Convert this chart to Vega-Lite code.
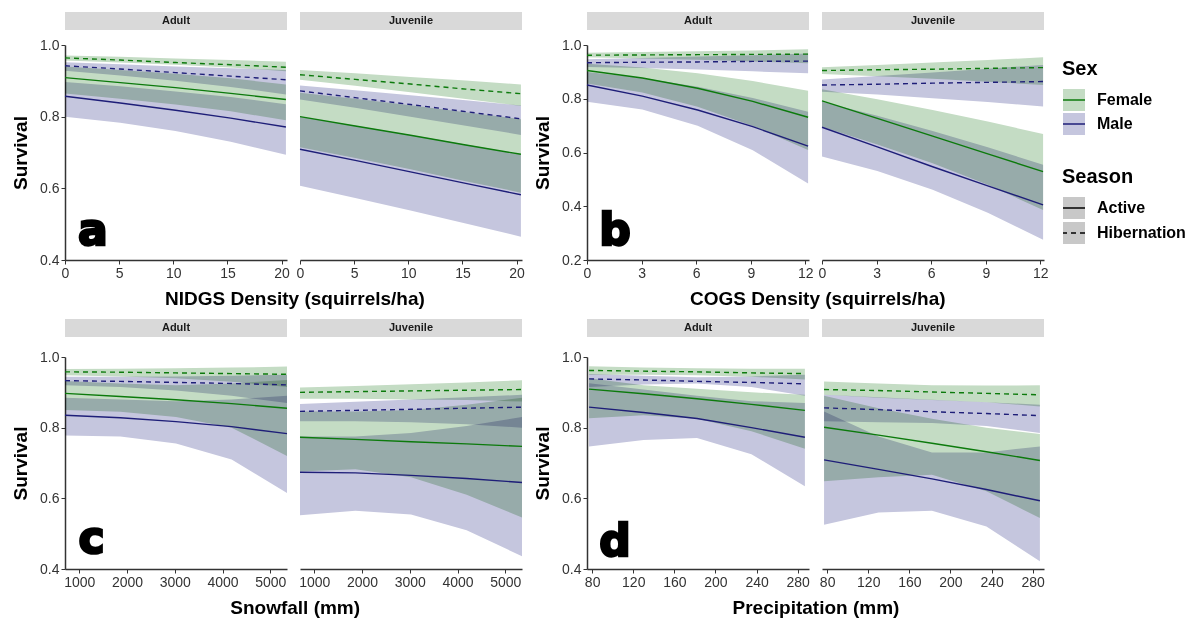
{
"$schema":"https://vega.github.io/schema/vega-lite/v6.json",
"padding":{"left":11,"top":12,"right":4,"bottom":2},
"datasets":{"d":[
{"p":"a","age":"Adult","sex":"Female","season":"Active","x":0,"y":0.909,"lo":0.865,"hi":0.94},
{"p":"a","age":"Adult","sex":"Female","season":"Active","x":5.1,"y":0.895,"lo":0.85,"hi":0.93},
{"p":"a","age":"Adult","sex":"Female","season":"Active","x":10.2,"y":0.881,"lo":0.834,"hi":0.92},
{"p":"a","age":"Adult","sex":"Female","season":"Active","x":15.3,"y":0.865,"lo":0.815,"hi":0.907},
{"p":"a","age":"Adult","sex":"Female","season":"Active","x":20.4,"y":0.848,"lo":0.79,"hi":0.89},
{"p":"a","age":"Adult","sex":"Male","season":"Active","x":0,"y":0.857,"lo":0.8,"hi":0.897},
{"p":"a","age":"Adult","sex":"Male","season":"Active","x":5.1,"y":0.838,"lo":0.783,"hi":0.885},
{"p":"a","age":"Adult","sex":"Male","season":"Active","x":10.2,"y":0.818,"lo":0.76,"hi":0.87},
{"p":"a","age":"Adult","sex":"Male","season":"Active","x":15.3,"y":0.796,"lo":0.73,"hi":0.855},
{"p":"a","age":"Adult","sex":"Male","season":"Active","x":20.4,"y":0.771,"lo":0.694,"hi":0.835},
{"p":"a","age":"Adult","sex":"Female","season":"Hibernation","x":0,"y":0.964,"lo":0.957,"hi":0.971},
{"p":"a","age":"Adult","sex":"Female","season":"Hibernation","x":5.1,"y":0.958,"lo":0.951,"hi":0.967},
{"p":"a","age":"Adult","sex":"Female","season":"Hibernation","x":10.2,"y":0.951,"lo":0.945,"hi":0.962},
{"p":"a","age":"Adult","sex":"Female","season":"Hibernation","x":15.3,"y":0.945,"lo":0.937,"hi":0.958},
{"p":"a","age":"Adult","sex":"Female","season":"Hibernation","x":20.4,"y":0.938,"lo":0.927,"hi":0.953},
{"p":"a","age":"Adult","sex":"Male","season":"Hibernation","x":0,"y":0.942,"lo":0.928,"hi":0.952},
{"p":"a","age":"Adult","sex":"Male","season":"Hibernation","x":5.1,"y":0.933,"lo":0.915,"hi":0.946},
{"p":"a","age":"Adult","sex":"Male","season":"Hibernation","x":10.2,"y":0.923,"lo":0.9,"hi":0.94},
{"p":"a","age":"Adult","sex":"Male","season":"Hibernation","x":15.3,"y":0.913,"lo":0.883,"hi":0.935},
{"p":"a","age":"Adult","sex":"Male","season":"Hibernation","x":20.4,"y":0.903,"lo":0.862,"hi":0.93},
{"p":"a","age":"Juvenile","sex":"Female","season":"Active","x":0,"y":0.8,"lo":0.715,"hi":0.867},
{"p":"a","age":"Juvenile","sex":"Female","season":"Active","x":5.1,"y":0.774,"lo":0.685,"hi":0.85},
{"p":"a","age":"Juvenile","sex":"Female","season":"Active","x":10.2,"y":0.748,"lo":0.653,"hi":0.832},
{"p":"a","age":"Juvenile","sex":"Female","season":"Active","x":15.3,"y":0.721,"lo":0.62,"hi":0.812},
{"p":"a","age":"Juvenile","sex":"Female","season":"Active","x":20.4,"y":0.695,"lo":0.588,"hi":0.793},
{"p":"a","age":"Juvenile","sex":"Male","season":"Active","x":0,"y":0.709,"lo":0.607,"hi":0.8},
{"p":"a","age":"Juvenile","sex":"Male","season":"Active","x":5.1,"y":0.678,"lo":0.573,"hi":0.775},
{"p":"a","age":"Juvenile","sex":"Male","season":"Active","x":10.2,"y":0.646,"lo":0.538,"hi":0.749},
{"p":"a","age":"Juvenile","sex":"Male","season":"Active","x":15.3,"y":0.614,"lo":0.502,"hi":0.722},
{"p":"a","age":"Juvenile","sex":"Male","season":"Active","x":20.4,"y":0.582,"lo":0.465,"hi":0.695},
{"p":"a","age":"Juvenile","sex":"Female","season":"Hibernation","x":0,"y":0.917,"lo":0.903,"hi":0.93},
{"p":"a","age":"Juvenile","sex":"Female","season":"Hibernation","x":5.1,"y":0.904,"lo":0.886,"hi":0.921},
{"p":"a","age":"Juvenile","sex":"Female","season":"Hibernation","x":10.2,"y":0.891,"lo":0.868,"hi":0.911},
{"p":"a","age":"Juvenile","sex":"Female","season":"Hibernation","x":15.3,"y":0.877,"lo":0.849,"hi":0.901},
{"p":"a","age":"Juvenile","sex":"Female","season":"Hibernation","x":20.4,"y":0.864,"lo":0.83,"hi":0.89},
{"p":"a","age":"Juvenile","sex":"Male","season":"Hibernation","x":0,"y":0.872,"lo":0.848,"hi":0.887},
{"p":"a","age":"Juvenile","sex":"Male","season":"Hibernation","x":5.1,"y":0.853,"lo":0.825,"hi":0.874},
{"p":"a","age":"Juvenile","sex":"Male","season":"Hibernation","x":10.2,"y":0.834,"lo":0.8,"hi":0.86},
{"p":"a","age":"Juvenile","sex":"Male","season":"Hibernation","x":15.3,"y":0.814,"lo":0.775,"hi":0.846},
{"p":"a","age":"Juvenile","sex":"Male","season":"Hibernation","x":20.4,"y":0.794,"lo":0.749,"hi":0.831},
{"p":"b","age":"Adult","sex":"Female","season":"Active","x":0,"y":0.905,"lo":0.857,"hi":0.93},
{"p":"b","age":"Adult","sex":"Female","season":"Active","x":3.04,"y":0.877,"lo":0.823,"hi":0.916},
{"p":"b","age":"Adult","sex":"Female","season":"Active","x":6.08,"y":0.839,"lo":0.77,"hi":0.895},
{"p":"b","age":"Adult","sex":"Female","season":"Active","x":9.11,"y":0.79,"lo":0.699,"hi":0.866},
{"p":"b","age":"Adult","sex":"Female","season":"Active","x":12.15,"y":0.731,"lo":0.609,"hi":0.83},
{"p":"b","age":"Adult","sex":"Male","season":"Active","x":0,"y":0.851,"lo":0.789,"hi":0.9},
{"p":"b","age":"Adult","sex":"Male","season":"Active","x":3.04,"y":0.81,"lo":0.76,"hi":0.877},
{"p":"b","age":"Adult","sex":"Male","season":"Active","x":6.08,"y":0.758,"lo":0.7,"hi":0.845},
{"p":"b","age":"Adult","sex":"Male","season":"Active","x":9.11,"y":0.696,"lo":0.608,"hi":0.803},
{"p":"b","age":"Adult","sex":"Male","season":"Active","x":12.15,"y":0.624,"lo":0.485,"hi":0.752},
{"p":"b","age":"Adult","sex":"Female","season":"Hibernation","x":0,"y":0.962,"lo":0.954,"hi":0.971},
{"p":"b","age":"Adult","sex":"Female","season":"Hibernation","x":3.04,"y":0.963,"lo":0.95,"hi":0.974},
{"p":"b","age":"Adult","sex":"Female","season":"Hibernation","x":6.08,"y":0.964,"lo":0.945,"hi":0.977},
{"p":"b","age":"Adult","sex":"Female","season":"Hibernation","x":9.11,"y":0.965,"lo":0.939,"hi":0.98},
{"p":"b","age":"Adult","sex":"Female","season":"Hibernation","x":12.15,"y":0.966,"lo":0.932,"hi":0.984},
{"p":"b","age":"Adult","sex":"Male","season":"Hibernation","x":0,"y":0.934,"lo":0.918,"hi":0.947},
{"p":"b","age":"Adult","sex":"Male","season":"Hibernation","x":3.04,"y":0.936,"lo":0.914,"hi":0.952},
{"p":"b","age":"Adult","sex":"Male","season":"Hibernation","x":6.08,"y":0.937,"lo":0.909,"hi":0.957},
{"p":"b","age":"Adult","sex":"Male","season":"Hibernation","x":9.11,"y":0.939,"lo":0.902,"hi":0.962},
{"p":"b","age":"Adult","sex":"Male","season":"Hibernation","x":12.15,"y":0.94,"lo":0.895,"hi":0.968},
{"p":"b","age":"Juvenile","sex":"Female","season":"Active","x":0,"y":0.792,"lo":0.696,"hi":0.835},
{"p":"b","age":"Juvenile","sex":"Female","season":"Active","x":3.04,"y":0.727,"lo":0.63,"hi":0.798},
{"p":"b","age":"Juvenile","sex":"Female","season":"Active","x":6.08,"y":0.661,"lo":0.56,"hi":0.758},
{"p":"b","age":"Juvenile","sex":"Female","season":"Active","x":9.11,"y":0.595,"lo":0.48,"hi":0.715},
{"p":"b","age":"Juvenile","sex":"Female","season":"Active","x":12.15,"y":0.529,"lo":0.386,"hi":0.669},
{"p":"b","age":"Juvenile","sex":"Male","season":"Active","x":0,"y":0.694,"lo":0.585,"hi":0.789},
{"p":"b","age":"Juvenile","sex":"Male","season":"Active","x":3.04,"y":0.621,"lo":0.531,"hi":0.737},
{"p":"b","age":"Juvenile","sex":"Male","season":"Active","x":6.08,"y":0.547,"lo":0.461,"hi":0.68},
{"p":"b","age":"Juvenile","sex":"Male","season":"Active","x":9.11,"y":0.476,"lo":0.376,"hi":0.62},
{"p":"b","age":"Juvenile","sex":"Male","season":"Active","x":12.15,"y":0.405,"lo":0.275,"hi":0.554},
{"p":"b","age":"Juvenile","sex":"Female","season":"Hibernation","x":0,"y":0.905,"lo":0.892,"hi":0.917},
{"p":"b","age":"Juvenile","sex":"Female","season":"Hibernation","x":3.04,"y":0.908,"lo":0.884,"hi":0.926},
{"p":"b","age":"Juvenile","sex":"Female","season":"Hibernation","x":6.08,"y":0.91,"lo":0.874,"hi":0.935},
{"p":"b","age":"Juvenile","sex":"Female","season":"Hibernation","x":9.11,"y":0.913,"lo":0.863,"hi":0.944},
{"p":"b","age":"Juvenile","sex":"Female","season":"Hibernation","x":12.15,"y":0.916,"lo":0.851,"hi":0.954},
{"p":"b","age":"Juvenile","sex":"Male","season":"Hibernation","x":0,"y":0.851,"lo":0.826,"hi":0.872},
{"p":"b","age":"Juvenile","sex":"Male","season":"Hibernation","x":3.04,"y":0.854,"lo":0.816,"hi":0.885},
{"p":"b","age":"Juvenile","sex":"Male","season":"Hibernation","x":6.08,"y":0.858,"lo":0.802,"hi":0.898},
{"p":"b","age":"Juvenile","sex":"Male","season":"Hibernation","x":9.11,"y":0.861,"lo":0.788,"hi":0.912},
{"p":"b","age":"Juvenile","sex":"Male","season":"Hibernation","x":12.15,"y":0.864,"lo":0.771,"hi":0.926},
{"p":"c","age":"Adult","sex":"Female","season":"Active","x":700,"y":0.897,"lo":0.85,"hi":0.932},
{"p":"c","age":"Adult","sex":"Female","season":"Active","x":1860,"y":0.888,"lo":0.845,"hi":0.925},
{"p":"c","age":"Adult","sex":"Female","season":"Active","x":3025,"y":0.879,"lo":0.83,"hi":0.92},
{"p":"c","age":"Adult","sex":"Female","season":"Active","x":4190,"y":0.868,"lo":0.8,"hi":0.925},
{"p":"c","age":"Adult","sex":"Female","season":"Active","x":5350,"y":0.855,"lo":0.72,"hi":0.935},
{"p":"c","age":"Adult","sex":"Male","season":"Active","x":700,"y":0.835,"lo":0.778,"hi":0.885},
{"p":"c","age":"Adult","sex":"Male","season":"Active","x":1860,"y":0.828,"lo":0.775,"hi":0.88},
{"p":"c","age":"Adult","sex":"Male","season":"Active","x":3025,"y":0.817,"lo":0.755,"hi":0.875},
{"p":"c","age":"Adult","sex":"Male","season":"Active","x":4190,"y":0.803,"lo":0.71,"hi":0.88},
{"p":"c","age":"Adult","sex":"Male","season":"Active","x":5350,"y":0.783,"lo":0.615,"hi":0.89},
{"p":"c","age":"Adult","sex":"Female","season":"Hibernation","x":700,"y":0.958,"lo":0.948,"hi":0.966},
{"p":"c","age":"Adult","sex":"Female","season":"Hibernation","x":1860,"y":0.957,"lo":0.945,"hi":0.967},
{"p":"c","age":"Adult","sex":"Female","season":"Hibernation","x":3025,"y":0.955,"lo":0.94,"hi":0.968},
{"p":"c","age":"Adult","sex":"Female","season":"Hibernation","x":4190,"y":0.953,"lo":0.93,"hi":0.97},
{"p":"c","age":"Adult","sex":"Female","season":"Hibernation","x":5350,"y":0.951,"lo":0.915,"hi":0.973},
{"p":"c","age":"Adult","sex":"Male","season":"Hibernation","x":700,"y":0.933,"lo":0.92,"hi":0.944},
{"p":"c","age":"Adult","sex":"Male","season":"Hibernation","x":1860,"y":0.931,"lo":0.915,"hi":0.944},
{"p":"c","age":"Adult","sex":"Male","season":"Hibernation","x":3025,"y":0.928,"lo":0.905,"hi":0.945},
{"p":"c","age":"Adult","sex":"Male","season":"Hibernation","x":4190,"y":0.925,"lo":0.89,"hi":0.947},
{"p":"c","age":"Adult","sex":"Male","season":"Hibernation","x":5350,"y":0.921,"lo":0.87,"hi":0.95},
{"p":"c","age":"Juvenile","sex":"Female","season":"Active","x":700,"y":0.773,"lo":0.676,"hi":0.846},
{"p":"c","age":"Juvenile","sex":"Female","season":"Active","x":1860,"y":0.767,"lo":0.682,"hi":0.846},
{"p":"c","age":"Juvenile","sex":"Female","season":"Active","x":3025,"y":0.76,"lo":0.66,"hi":0.85},
{"p":"c","age":"Juvenile","sex":"Female","season":"Active","x":4190,"y":0.754,"lo":0.61,"hi":0.865},
{"p":"c","age":"Juvenile","sex":"Female","season":"Active","x":5350,"y":0.747,"lo":0.546,"hi":0.885},
{"p":"c","age":"Juvenile","sex":"Male","season":"Active","x":700,"y":0.674,"lo":0.552,"hi":0.775},
{"p":"c","age":"Juvenile","sex":"Male","season":"Active","x":1860,"y":0.672,"lo":0.565,"hi":0.775},
{"p":"c","age":"Juvenile","sex":"Male","season":"Active","x":3025,"y":0.665,"lo":0.554,"hi":0.785},
{"p":"c","age":"Juvenile","sex":"Male","season":"Active","x":4190,"y":0.656,"lo":0.51,"hi":0.805},
{"p":"c","age":"Juvenile","sex":"Male","season":"Active","x":5350,"y":0.645,"lo":0.436,"hi":0.83},
{"p":"c","age":"Juvenile","sex":"Female","season":"Hibernation","x":700,"y":0.9,"lo":0.882,"hi":0.914},
{"p":"c","age":"Juvenile","sex":"Female","season":"Hibernation","x":1860,"y":0.902,"lo":0.882,"hi":0.918},
{"p":"c","age":"Juvenile","sex":"Female","season":"Hibernation","x":3025,"y":0.904,"lo":0.88,"hi":0.923},
{"p":"c","age":"Juvenile","sex":"Female","season":"Hibernation","x":4190,"y":0.906,"lo":0.878,"hi":0.928},
{"p":"c","age":"Juvenile","sex":"Female","season":"Hibernation","x":5350,"y":0.908,"lo":0.874,"hi":0.934},
{"p":"c","age":"Juvenile","sex":"Male","season":"Hibernation","x":700,"y":0.846,"lo":0.818,"hi":0.867},
{"p":"c","age":"Juvenile","sex":"Male","season":"Hibernation","x":1860,"y":0.849,"lo":0.818,"hi":0.873},
{"p":"c","age":"Juvenile","sex":"Male","season":"Hibernation","x":3025,"y":0.852,"lo":0.815,"hi":0.88},
{"p":"c","age":"Juvenile","sex":"Male","season":"Hibernation","x":4190,"y":0.855,"lo":0.81,"hi":0.886},
{"p":"c","age":"Juvenile","sex":"Male","season":"Hibernation","x":5350,"y":0.858,"lo":0.8,"hi":0.893},
{"p":"d","age":"Adult","sex":"Female","season":"Active","x":77,"y":0.909,"lo":0.827,"hi":0.94},
{"p":"d","age":"Adult","sex":"Female","season":"Active","x":130,"y":0.896,"lo":0.835,"hi":0.92},
{"p":"d","age":"Adult","sex":"Female","season":"Active","x":182,"y":0.882,"lo":0.825,"hi":0.91},
{"p":"d","age":"Adult","sex":"Female","season":"Active","x":235,"y":0.866,"lo":0.79,"hi":0.9},
{"p":"d","age":"Adult","sex":"Female","season":"Active","x":287,"y":0.849,"lo":0.74,"hi":0.893},
{"p":"d","age":"Adult","sex":"Male","season":"Active","x":77,"y":0.858,"lo":0.747,"hi":0.926},
{"p":"d","age":"Adult","sex":"Male","season":"Active","x":130,"y":0.843,"lo":0.765,"hi":0.908},
{"p":"d","age":"Adult","sex":"Male","season":"Active","x":182,"y":0.826,"lo":0.771,"hi":0.89},
{"p":"d","age":"Adult","sex":"Male","season":"Active","x":235,"y":0.8,"lo":0.725,"hi":0.875},
{"p":"d","age":"Adult","sex":"Male","season":"Active","x":287,"y":0.773,"lo":0.634,"hi":0.87},
{"p":"d","age":"Adult","sex":"Female","season":"Hibernation","x":77,"y":0.962,"lo":0.95,"hi":0.974},
{"p":"d","age":"Adult","sex":"Female","season":"Hibernation","x":130,"y":0.96,"lo":0.95,"hi":0.97},
{"p":"d","age":"Adult","sex":"Female","season":"Hibernation","x":182,"y":0.958,"lo":0.948,"hi":0.968},
{"p":"d","age":"Adult","sex":"Female","season":"Hibernation","x":235,"y":0.955,"lo":0.944,"hi":0.967},
{"p":"d","age":"Adult","sex":"Female","season":"Hibernation","x":287,"y":0.953,"lo":0.936,"hi":0.967},
{"p":"d","age":"Adult","sex":"Male","season":"Hibernation","x":77,"y":0.938,"lo":0.915,"hi":0.952},
{"p":"d","age":"Adult","sex":"Male","season":"Hibernation","x":130,"y":0.935,"lo":0.922,"hi":0.947},
{"p":"d","age":"Adult","sex":"Male","season":"Hibernation","x":182,"y":0.931,"lo":0.925,"hi":0.943},
{"p":"d","age":"Adult","sex":"Male","season":"Hibernation","x":235,"y":0.928,"lo":0.915,"hi":0.945},
{"p":"d","age":"Adult","sex":"Male","season":"Hibernation","x":287,"y":0.924,"lo":0.89,"hi":0.95},
{"p":"d","age":"Juvenile","sex":"Female","season":"Active","x":77,"y":0.801,"lo":0.648,"hi":0.89},
{"p":"d","age":"Juvenile","sex":"Female","season":"Active","x":130,"y":0.779,"lo":0.66,"hi":0.855},
{"p":"d","age":"Juvenile","sex":"Female","season":"Active","x":182,"y":0.756,"lo":0.667,"hi":0.825},
{"p":"d","age":"Juvenile","sex":"Female","season":"Active","x":235,"y":0.732,"lo":0.62,"hi":0.8},
{"p":"d","age":"Juvenile","sex":"Female","season":"Active","x":287,"y":0.707,"lo":0.544,"hi":0.782},
{"p":"d","age":"Juvenile","sex":"Male","season":"Active","x":77,"y":0.709,"lo":0.525,"hi":0.846},
{"p":"d","age":"Juvenile","sex":"Male","season":"Active","x":130,"y":0.682,"lo":0.56,"hi":0.775},
{"p":"d","age":"Juvenile","sex":"Male","season":"Active","x":182,"y":0.655,"lo":0.565,"hi":0.73},
{"p":"d","age":"Juvenile","sex":"Male","season":"Active","x":235,"y":0.625,"lo":0.52,"hi":0.73},
{"p":"d","age":"Juvenile","sex":"Male","season":"Active","x":287,"y":0.593,"lo":0.422,"hi":0.747},
{"p":"d","age":"Juvenile","sex":"Female","season":"Hibernation","x":77,"y":0.908,"lo":0.893,"hi":0.931},
{"p":"d","age":"Juvenile","sex":"Female","season":"Hibernation","x":130,"y":0.905,"lo":0.885,"hi":0.925},
{"p":"d","age":"Juvenile","sex":"Female","season":"Hibernation","x":182,"y":0.901,"lo":0.878,"hi":0.92},
{"p":"d","age":"Juvenile","sex":"Female","season":"Hibernation","x":235,"y":0.897,"lo":0.872,"hi":0.919},
{"p":"d","age":"Juvenile","sex":"Female","season":"Hibernation","x":287,"y":0.893,"lo":0.86,"hi":0.92},
{"p":"d","age":"Juvenile","sex":"Male","season":"Hibernation","x":77,"y":0.856,"lo":0.818,"hi":0.893},
{"p":"d","age":"Juvenile","sex":"Male","season":"Hibernation","x":130,"y":0.851,"lo":0.815,"hi":0.886},
{"p":"d","age":"Juvenile","sex":"Male","season":"Hibernation","x":182,"y":0.845,"lo":0.813,"hi":0.879},
{"p":"d","age":"Juvenile","sex":"Male","season":"Hibernation","x":235,"y":0.84,"lo":0.805,"hi":0.872},
{"p":"d","age":"Juvenile","sex":"Male","season":"Hibernation","x":287,"y":0.834,"lo":0.785,"hi":0.865}
]},
"vconcat":[
{"hconcat":[
{"concat":[
{"width":222,"height":18,"data":{"values":[{"lab":"Adult"}]},"layer":[{"mark":{"type":"rect","color":"#d9d9d9"},"encoding":{}},{"mark":{"type":"text","fontSize":11,"fontWeight":"bold","color":"#1a1a1a"},"encoding":{"text":{"field":"lab","type":"nominal"}}}]},
{"width":222,"height":18,"data":{"values":[{"lab":"Juvenile"}]},"layer":[{"mark":{"type":"rect","color":"#d9d9d9"},"encoding":{}},{"mark":{"type":"text","fontSize":11,"fontWeight":"bold","color":"#1a1a1a"},"encoding":{"text":{"field":"lab","type":"nominal"}}}]},
{"width":222,"height":215,"layer":[
{"data":{"name":"d"},"transform":[{"filter":"datum.p==='a'&&datum.age==='Adult'"}],"mark":{"type":"area","blend":"multiply"},"encoding":{"x":{"field":"x","type":"quantitative","title":null,"scale":{"domain":[0,20.5],"nice":false,"zero":false},"axis":{"values":[0,5,10,15,20]}},"y":{"field":"lo","type":"quantitative","title":"Survival","stack":null,"scale":{"domain":[0.4,1],"nice":false,"zero":false},"axis":{"values":[0.4,0.6,0.8,1],"format":".1f"}},"y2":{"field":"hi"},"fill":{"field":"sex","type":"nominal","scale":{"domain":["Female","Male"],"range":["#c4dcc4","#c5c6de"]},"legend":{"title":"Sex","orient":"none","legendX":997,"legendY":47,"symbolType":"M-1,0H1V1H-1V-1H1V0","symbolDash":[22,600],"clipHeight":22,"rowPadding":2}},"detail":{"field":"season"}}},
{"data":{"name":"d"},"transform":[{"filter":"datum.p==='a'&&datum.age==='Adult'"}],"mark":{"type":"line","strokeWidth":1.4},"encoding":{"x":{"field":"x","type":"quantitative","title":null},"y":{"field":"y","type":"quantitative","title":"Survival"},"stroke":{"field":"sex","type":"nominal","scale":{"domain":["Female","Male"],"range":["#0c7a0c","#1e1e78"]},"legend":{"title":"Sex","orient":"none","legendX":997,"legendY":47,"symbolType":"M-1,0H1V1H-1V-1H1V0","symbolDash":[22,600],"clipHeight":22,"rowPadding":2}},"strokeDash":{"field":"season","type":"nominal","scale":{"domain":["Active","Hibernation"],"range":[[300,100],[5,4,5,4,5,4,5,4,5,4,5,4,5,4,5,4,5,4,5,4,5,4,5,4,5,4,5,4,5,4,5,4,5,4,5,4,5,4,5,4,5,4,5,4,5,4,5,4,5,4,5,4,5,4,5,4,5,4,5,100]]},"legend":{"title":"Season","orient":"none","legendX":997,"legendY":155,"symbolType":"M-1,0H1V1H-1V-1H1V0","symbolStrokeColor":"#000000","clipHeight":22,"rowPadding":3,"encode":{"symbols":{"update":{"fill":{"value":"#c8c8c8"},"stroke":{"value":"#000000"},"strokeDashOffset":{"signal":"datum.value === 'Active' ? 278 : 244"}}}}}}}},
{"data":{"values":[{"tag":"a"}]},"mark":{"type":"text","font":"DejaVu Sans","fontSize":44,"fontWeight":"bold","align":"left","baseline":"alphabetic","color":"#000000","stroke":"#000000","strokeWidth":2.5},"encoding":{"x":{"datum":1.2,"type":"quantitative"},"y":{"datum":0.443,"type":"quantitative"},"text":{"field":"tag","type":"nominal"}}}
]},
{"width":222,"height":215,"layer":[
{"data":{"name":"d"},"transform":[{"filter":"datum.p==='a'&&datum.age==='Juvenile'"}],"mark":{"type":"area","blend":"multiply"},"encoding":{"x":{"field":"x","type":"quantitative","title":null,"scale":{"domain":[0,20.5],"nice":false,"zero":false},"axis":{"values":[0,5,10,15,20]}},"y":{"field":"lo","type":"quantitative","stack":null,"scale":{"domain":[0.4,1],"nice":false,"zero":false},"axis":null},"y2":{"field":"hi"},"fill":{"field":"sex","type":"nominal","scale":{"domain":["Female","Male"],"range":["#c4dcc4","#c5c6de"]},"legend":{"title":"Sex","orient":"none","legendX":997,"legendY":47,"symbolType":"M-1,0H1V1H-1V-1H1V0","symbolDash":[22,600],"clipHeight":22,"rowPadding":2}},"detail":{"field":"season"}}},
{"data":{"name":"d"},"transform":[{"filter":"datum.p==='a'&&datum.age==='Juvenile'"}],"mark":{"type":"line","strokeWidth":1.4},"encoding":{"x":{"field":"x","type":"quantitative","title":null},"y":{"field":"y","type":"quantitative","axis":null},"stroke":{"field":"sex","type":"nominal","scale":{"domain":["Female","Male"],"range":["#0c7a0c","#1e1e78"]},"legend":{"title":"Sex","orient":"none","legendX":997,"legendY":47,"symbolType":"M-1,0H1V1H-1V-1H1V0","symbolDash":[22,600],"clipHeight":22,"rowPadding":2}},"strokeDash":{"field":"season","type":"nominal","scale":{"domain":["Active","Hibernation"],"range":[[300,100],[5,4,5,4,5,4,5,4,5,4,5,4,5,4,5,4,5,4,5,4,5,4,5,4,5,4,5,4,5,4,5,4,5,4,5,4,5,4,5,4,5,4,5,4,5,4,5,4,5,4,5,4,5,4,5,4,5,4,5,100]]},"legend":{"title":"Season","orient":"none","legendX":997,"legendY":155,"symbolType":"M-1,0H1V1H-1V-1H1V0","symbolStrokeColor":"#000000","clipHeight":22,"rowPadding":3,"encode":{"symbols":{"update":{"fill":{"value":"#c8c8c8"},"stroke":{"value":"#000000"},"strokeDashOffset":{"signal":"datum.value === 'Active' ? 278 : 244"}}}}}}}}
]}
],"columns":2,"align":"each","bounds":"flush","spacing":{"row":15,"column":13},"title":{"text":"NIDGS Density (squirrels/ha)","orient":"bottom","anchor":"middle","fontSize":19,"fontWeight":"bold","dx":27,"offset":10}},
{"concat":[
{"width":222,"height":18,"data":{"values":[{"lab":"Adult"}]},"layer":[{"mark":{"type":"rect","color":"#d9d9d9"},"encoding":{}},{"mark":{"type":"text","fontSize":11,"fontWeight":"bold","color":"#1a1a1a"},"encoding":{"text":{"field":"lab","type":"nominal"}}}]},
{"width":222,"height":18,"data":{"values":[{"lab":"Juvenile"}]},"layer":[{"mark":{"type":"rect","color":"#d9d9d9"},"encoding":{}},{"mark":{"type":"text","fontSize":11,"fontWeight":"bold","color":"#1a1a1a"},"encoding":{"text":{"field":"lab","type":"nominal"}}}]},
{"width":222,"height":215,"layer":[
{"data":{"name":"d"},"transform":[{"filter":"datum.p==='b'&&datum.age==='Adult'"}],"mark":{"type":"area","blend":"multiply"},"encoding":{"x":{"field":"x","type":"quantitative","title":null,"scale":{"domain":[0,12.2],"nice":false,"zero":false},"axis":{"values":[0,3,6,9,12]}},"y":{"field":"lo","type":"quantitative","title":"Survival","stack":null,"scale":{"domain":[0.2,1],"nice":false,"zero":false},"axis":{"values":[0.2,0.4,0.6,0.8,1],"format":".1f"}},"y2":{"field":"hi"},"fill":{"field":"sex","type":"nominal","scale":{"domain":["Female","Male"],"range":["#c4dcc4","#c5c6de"]},"legend":{"title":"Sex","orient":"none","legendX":997,"legendY":47,"symbolType":"M-1,0H1V1H-1V-1H1V0","symbolDash":[22,600],"clipHeight":22,"rowPadding":2}},"detail":{"field":"season"}}},
{"data":{"name":"d"},"transform":[{"filter":"datum.p==='b'&&datum.age==='Adult'"}],"mark":{"type":"line","strokeWidth":1.4},"encoding":{"x":{"field":"x","type":"quantitative","title":null},"y":{"field":"y","type":"quantitative","title":"Survival"},"stroke":{"field":"sex","type":"nominal","scale":{"domain":["Female","Male"],"range":["#0c7a0c","#1e1e78"]},"legend":{"title":"Sex","orient":"none","legendX":997,"legendY":47,"symbolType":"M-1,0H1V1H-1V-1H1V0","symbolDash":[22,600],"clipHeight":22,"rowPadding":2}},"strokeDash":{"field":"season","type":"nominal","scale":{"domain":["Active","Hibernation"],"range":[[300,100],[5,4,5,4,5,4,5,4,5,4,5,4,5,4,5,4,5,4,5,4,5,4,5,4,5,4,5,4,5,4,5,4,5,4,5,4,5,4,5,4,5,4,5,4,5,4,5,4,5,4,5,4,5,4,5,4,5,4,5,100]]},"legend":{"title":"Season","orient":"none","legendX":997,"legendY":155,"symbolType":"M-1,0H1V1H-1V-1H1V0","symbolStrokeColor":"#000000","clipHeight":22,"rowPadding":3,"encode":{"symbols":{"update":{"fill":{"value":"#c8c8c8"},"stroke":{"value":"#000000"},"strokeDashOffset":{"signal":"datum.value === 'Active' ? 278 : 244"}}}}}}}},
{"data":{"values":[{"tag":"b"}]},"mark":{"type":"text","font":"DejaVu Sans","fontSize":44,"fontWeight":"bold","align":"left","baseline":"alphabetic","color":"#000000","stroke":"#000000","strokeWidth":2.5},"encoding":{"x":{"datum":0.67,"type":"quantitative"},"y":{"datum":0.256,"type":"quantitative"},"text":{"field":"tag","type":"nominal"}}}
]},
{"width":222,"height":215,"layer":[
{"data":{"name":"d"},"transform":[{"filter":"datum.p==='b'&&datum.age==='Juvenile'"}],"mark":{"type":"area","blend":"multiply"},"encoding":{"x":{"field":"x","type":"quantitative","title":null,"scale":{"domain":[0,12.2],"nice":false,"zero":false},"axis":{"values":[0,3,6,9,12]}},"y":{"field":"lo","type":"quantitative","stack":null,"scale":{"domain":[0.2,1],"nice":false,"zero":false},"axis":null},"y2":{"field":"hi"},"fill":{"field":"sex","type":"nominal","scale":{"domain":["Female","Male"],"range":["#c4dcc4","#c5c6de"]},"legend":{"title":"Sex","orient":"none","legendX":997,"legendY":47,"symbolType":"M-1,0H1V1H-1V-1H1V0","symbolDash":[22,600],"clipHeight":22,"rowPadding":2}},"detail":{"field":"season"}}},
{"data":{"name":"d"},"transform":[{"filter":"datum.p==='b'&&datum.age==='Juvenile'"}],"mark":{"type":"line","strokeWidth":1.4},"encoding":{"x":{"field":"x","type":"quantitative","title":null},"y":{"field":"y","type":"quantitative","axis":null},"stroke":{"field":"sex","type":"nominal","scale":{"domain":["Female","Male"],"range":["#0c7a0c","#1e1e78"]},"legend":{"title":"Sex","orient":"none","legendX":997,"legendY":47,"symbolType":"M-1,0H1V1H-1V-1H1V0","symbolDash":[22,600],"clipHeight":22,"rowPadding":2}},"strokeDash":{"field":"season","type":"nominal","scale":{"domain":["Active","Hibernation"],"range":[[300,100],[5,4,5,4,5,4,5,4,5,4,5,4,5,4,5,4,5,4,5,4,5,4,5,4,5,4,5,4,5,4,5,4,5,4,5,4,5,4,5,4,5,4,5,4,5,4,5,4,5,4,5,4,5,4,5,4,5,4,5,100]]},"legend":{"title":"Season","orient":"none","legendX":997,"legendY":155,"symbolType":"M-1,0H1V1H-1V-1H1V0","symbolStrokeColor":"#000000","clipHeight":22,"rowPadding":3,"encode":{"symbols":{"update":{"fill":{"value":"#c8c8c8"},"stroke":{"value":"#000000"},"strokeDashOffset":{"signal":"datum.value === 'Active' ? 278 : 244"}}}}}}}}
]}
],"columns":2,"align":"each","bounds":"flush","spacing":{"row":15,"column":13},"title":{"text":"COGS Density (squirrels/ha)","orient":"bottom","anchor":"middle","fontSize":19,"fontWeight":"bold","dx":27,"offset":10}}
],"spacing":8},
{"hconcat":[
{"concat":[
{"width":222,"height":18,"data":{"values":[{"lab":"Adult"}]},"layer":[{"mark":{"type":"rect","color":"#d9d9d9"},"encoding":{}},{"mark":{"type":"text","fontSize":11,"fontWeight":"bold","color":"#1a1a1a"},"encoding":{"text":{"field":"lab","type":"nominal"}}}]},
{"width":222,"height":18,"data":{"values":[{"lab":"Juvenile"}]},"layer":[{"mark":{"type":"rect","color":"#d9d9d9"},"encoding":{}},{"mark":{"type":"text","fontSize":11,"fontWeight":"bold","color":"#1a1a1a"},"encoding":{"text":{"field":"lab","type":"nominal"}}}]},
{"width":222,"height":212,"layer":[
{"data":{"name":"d"},"transform":[{"filter":"datum.p==='c'&&datum.age==='Adult'"}],"mark":{"type":"area","blend":"multiply"},"encoding":{"x":{"field":"x","type":"quantitative","title":null,"scale":{"domain":[700,5350],"nice":false,"zero":false},"axis":{"values":[1000,2000,3000,4000,5000],"format":"d"}},"y":{"field":"lo","type":"quantitative","title":"Survival","stack":null,"scale":{"domain":[0.4,1],"nice":false,"zero":false},"axis":{"values":[0.4,0.5,0.6,0.7,0.8,0.9,1],"format":".1f"}},"y2":{"field":"hi"},"fill":{"field":"sex","type":"nominal","scale":{"domain":["Female","Male"],"range":["#c4dcc4","#c5c6de"]},"legend":{"title":"Sex","orient":"none","legendX":997,"legendY":47,"symbolType":"M-1,0H1V1H-1V-1H1V0","symbolDash":[22,600],"clipHeight":22,"rowPadding":2}},"detail":{"field":"season"}}},
{"data":{"name":"d"},"transform":[{"filter":"datum.p==='c'&&datum.age==='Adult'"}],"mark":{"type":"line","strokeWidth":1.4},"encoding":{"x":{"field":"x","type":"quantitative","title":null},"y":{"field":"y","type":"quantitative","title":"Survival"},"stroke":{"field":"sex","type":"nominal","scale":{"domain":["Female","Male"],"range":["#0c7a0c","#1e1e78"]},"legend":{"title":"Sex","orient":"none","legendX":997,"legendY":47,"symbolType":"M-1,0H1V1H-1V-1H1V0","symbolDash":[22,600],"clipHeight":22,"rowPadding":2}},"strokeDash":{"field":"season","type":"nominal","scale":{"domain":["Active","Hibernation"],"range":[[300,100],[5,4,5,4,5,4,5,4,5,4,5,4,5,4,5,4,5,4,5,4,5,4,5,4,5,4,5,4,5,4,5,4,5,4,5,4,5,4,5,4,5,4,5,4,5,4,5,4,5,4,5,4,5,4,5,4,5,4,5,100]]},"legend":{"title":"Season","orient":"none","legendX":997,"legendY":155,"symbolType":"M-1,0H1V1H-1V-1H1V0","symbolStrokeColor":"#000000","clipHeight":22,"rowPadding":3,"encode":{"symbols":{"update":{"fill":{"value":"#c8c8c8"},"stroke":{"value":"#000000"},"strokeDashOffset":{"signal":"datum.value === 'Active' ? 278 : 244"}}}}}}}},
{"data":{"values":[{"tag":"c"}]},"mark":{"type":"text","font":"DejaVu Sans","fontSize":44,"fontWeight":"bold","align":"left","baseline":"alphabetic","color":"#000000","stroke":"#000000","strokeWidth":2.5},"encoding":{"x":{"datum":983,"type":"quantitative"},"y":{"datum":0.444,"type":"quantitative"},"text":{"field":"tag","type":"nominal"}}}
]},
{"width":222,"height":212,"layer":[
{"data":{"name":"d"},"transform":[{"filter":"datum.p==='c'&&datum.age==='Juvenile'"}],"mark":{"type":"area","blend":"multiply"},"encoding":{"x":{"field":"x","type":"quantitative","title":null,"scale":{"domain":[700,5350],"nice":false,"zero":false},"axis":{"values":[1000,2000,3000,4000,5000],"format":"d"}},"y":{"field":"lo","type":"quantitative","stack":null,"scale":{"domain":[0.4,1],"nice":false,"zero":false},"axis":null},"y2":{"field":"hi"},"fill":{"field":"sex","type":"nominal","scale":{"domain":["Female","Male"],"range":["#c4dcc4","#c5c6de"]},"legend":{"title":"Sex","orient":"none","legendX":997,"legendY":47,"symbolType":"M-1,0H1V1H-1V-1H1V0","symbolDash":[22,600],"clipHeight":22,"rowPadding":2}},"detail":{"field":"season"}}},
{"data":{"name":"d"},"transform":[{"filter":"datum.p==='c'&&datum.age==='Juvenile'"}],"mark":{"type":"line","strokeWidth":1.4},"encoding":{"x":{"field":"x","type":"quantitative","title":null},"y":{"field":"y","type":"quantitative","axis":null},"stroke":{"field":"sex","type":"nominal","scale":{"domain":["Female","Male"],"range":["#0c7a0c","#1e1e78"]},"legend":{"title":"Sex","orient":"none","legendX":997,"legendY":47,"symbolType":"M-1,0H1V1H-1V-1H1V0","symbolDash":[22,600],"clipHeight":22,"rowPadding":2}},"strokeDash":{"field":"season","type":"nominal","scale":{"domain":["Active","Hibernation"],"range":[[300,100],[5,4,5,4,5,4,5,4,5,4,5,4,5,4,5,4,5,4,5,4,5,4,5,4,5,4,5,4,5,4,5,4,5,4,5,4,5,4,5,4,5,4,5,4,5,4,5,4,5,4,5,4,5,4,5,4,5,4,5,100]]},"legend":{"title":"Season","orient":"none","legendX":997,"legendY":155,"symbolType":"M-1,0H1V1H-1V-1H1V0","symbolStrokeColor":"#000000","clipHeight":22,"rowPadding":3,"encode":{"symbols":{"update":{"fill":{"value":"#c8c8c8"},"stroke":{"value":"#000000"},"strokeDashOffset":{"signal":"datum.value === 'Active' ? 278 : 244"}}}}}}}}
]}
],"columns":2,"align":"each","bounds":"flush","spacing":{"row":20,"column":13},"title":{"text":"Snowfall (mm)","orient":"bottom","anchor":"middle","fontSize":19,"fontWeight":"bold","dx":27,"offset":10}},
{"concat":[
{"width":222,"height":18,"data":{"values":[{"lab":"Adult"}]},"layer":[{"mark":{"type":"rect","color":"#d9d9d9"},"encoding":{}},{"mark":{"type":"text","fontSize":11,"fontWeight":"bold","color":"#1a1a1a"},"encoding":{"text":{"field":"lab","type":"nominal"}}}]},
{"width":222,"height":18,"data":{"values":[{"lab":"Juvenile"}]},"layer":[{"mark":{"type":"rect","color":"#d9d9d9"},"encoding":{}},{"mark":{"type":"text","fontSize":11,"fontWeight":"bold","color":"#1a1a1a"},"encoding":{"text":{"field":"lab","type":"nominal"}}}]},
{"width":222,"height":212,"layer":[
{"data":{"name":"d"},"transform":[{"filter":"datum.p==='d'&&datum.age==='Adult'"}],"mark":{"type":"area","blend":"multiply"},"encoding":{"x":{"field":"x","type":"quantitative","title":null,"scale":{"domain":[75,291],"nice":false,"zero":false},"axis":{"values":[80,120,160,200,240,280]}},"y":{"field":"lo","type":"quantitative","title":"Survival","stack":null,"scale":{"domain":[0.4,1],"nice":false,"zero":false},"axis":{"values":[0.4,0.6,0.8,1],"format":".1f"}},"y2":{"field":"hi"},"fill":{"field":"sex","type":"nominal","scale":{"domain":["Female","Male"],"range":["#c4dcc4","#c5c6de"]},"legend":{"title":"Sex","orient":"none","legendX":997,"legendY":47,"symbolType":"M-1,0H1V1H-1V-1H1V0","symbolDash":[22,600],"clipHeight":22,"rowPadding":2}},"detail":{"field":"season"}}},
{"data":{"name":"d"},"transform":[{"filter":"datum.p==='d'&&datum.age==='Adult'"}],"mark":{"type":"line","strokeWidth":1.4},"encoding":{"x":{"field":"x","type":"quantitative","title":null},"y":{"field":"y","type":"quantitative","title":"Survival"},"stroke":{"field":"sex","type":"nominal","scale":{"domain":["Female","Male"],"range":["#0c7a0c","#1e1e78"]},"legend":{"title":"Sex","orient":"none","legendX":997,"legendY":47,"symbolType":"M-1,0H1V1H-1V-1H1V0","symbolDash":[22,600],"clipHeight":22,"rowPadding":2}},"strokeDash":{"field":"season","type":"nominal","scale":{"domain":["Active","Hibernation"],"range":[[300,100],[5,4,5,4,5,4,5,4,5,4,5,4,5,4,5,4,5,4,5,4,5,4,5,4,5,4,5,4,5,4,5,4,5,4,5,4,5,4,5,4,5,4,5,4,5,4,5,4,5,4,5,4,5,4,5,4,5,4,5,100]]},"legend":{"title":"Season","orient":"none","legendX":997,"legendY":155,"symbolType":"M-1,0H1V1H-1V-1H1V0","symbolStrokeColor":"#000000","clipHeight":22,"rowPadding":3,"encode":{"symbols":{"update":{"fill":{"value":"#c8c8c8"},"stroke":{"value":"#000000"},"strokeDashOffset":{"signal":"datum.value === 'Active' ? 278 : 244"}}}}}}}},
{"data":{"values":[{"tag":"d"}]},"mark":{"type":"text","font":"DejaVu Sans","fontSize":44,"fontWeight":"bold","align":"left","baseline":"alphabetic","color":"#000000","stroke":"#000000","strokeWidth":2.5},"encoding":{"x":{"datum":87,"type":"quantitative"},"y":{"datum":0.436,"type":"quantitative"},"text":{"field":"tag","type":"nominal"}}}
]},
{"width":222,"height":212,"layer":[
{"data":{"name":"d"},"transform":[{"filter":"datum.p==='d'&&datum.age==='Juvenile'"}],"mark":{"type":"area","blend":"multiply"},"encoding":{"x":{"field":"x","type":"quantitative","title":null,"scale":{"domain":[75,291],"nice":false,"zero":false},"axis":{"values":[80,120,160,200,240,280]}},"y":{"field":"lo","type":"quantitative","stack":null,"scale":{"domain":[0.4,1],"nice":false,"zero":false},"axis":null},"y2":{"field":"hi"},"fill":{"field":"sex","type":"nominal","scale":{"domain":["Female","Male"],"range":["#c4dcc4","#c5c6de"]},"legend":{"title":"Sex","orient":"none","legendX":997,"legendY":47,"symbolType":"M-1,0H1V1H-1V-1H1V0","symbolDash":[22,600],"clipHeight":22,"rowPadding":2}},"detail":{"field":"season"}}},
{"data":{"name":"d"},"transform":[{"filter":"datum.p==='d'&&datum.age==='Juvenile'"}],"mark":{"type":"line","strokeWidth":1.4},"encoding":{"x":{"field":"x","type":"quantitative","title":null},"y":{"field":"y","type":"quantitative","axis":null},"stroke":{"field":"sex","type":"nominal","scale":{"domain":["Female","Male"],"range":["#0c7a0c","#1e1e78"]},"legend":{"title":"Sex","orient":"none","legendX":997,"legendY":47,"symbolType":"M-1,0H1V1H-1V-1H1V0","symbolDash":[22,600],"clipHeight":22,"rowPadding":2}},"strokeDash":{"field":"season","type":"nominal","scale":{"domain":["Active","Hibernation"],"range":[[300,100],[5,4,5,4,5,4,5,4,5,4,5,4,5,4,5,4,5,4,5,4,5,4,5,4,5,4,5,4,5,4,5,4,5,4,5,4,5,4,5,4,5,4,5,4,5,4,5,4,5,4,5,4,5,4,5,4,5,4,5,100]]},"legend":{"title":"Season","orient":"none","legendX":997,"legendY":155,"symbolType":"M-1,0H1V1H-1V-1H1V0","symbolStrokeColor":"#000000","clipHeight":22,"rowPadding":3,"encode":{"symbols":{"update":{"fill":{"value":"#c8c8c8"},"stroke":{"value":"#000000"},"strokeDashOffset":{"signal":"datum.value === 'Active' ? 278 : 244"}}}}}}}}
]}
],"columns":2,"align":"each","bounds":"flush","spacing":{"row":20,"column":13},"title":{"text":"Precipitation (mm)","orient":"bottom","anchor":"middle","fontSize":19,"fontWeight":"bold","dx":27,"offset":10}}
],"spacing":8}
],
"spacing":10,
"config":{
"view":{"stroke":null},
"font":"Liberation Sans",
"axis":{"grid":false,"domainColor":"#333333","domainWidth":1.5,"tickColor":"#333333","tickSize":4,"tickWidth":1,"labelFontSize":14,"labelColor":"#333333","labelPadding":2,"labelFlush":false,"labelOverlap":false,"titleFontSize":19,"titleFontWeight":"bold","titleColor":"#000000","titlePadding":9},
"legend":{"symbolSize":484,"symbolStrokeWidth":1.5,"labelFontSize":16,"labelFontWeight":"bold","labelColor":"#000000","titleFontSize":20,"titleFontWeight":"bold","titleColor":"#000000","titlePadding":10,"labelOffset":11},
"title":{"color":"#000000"}
}
}
